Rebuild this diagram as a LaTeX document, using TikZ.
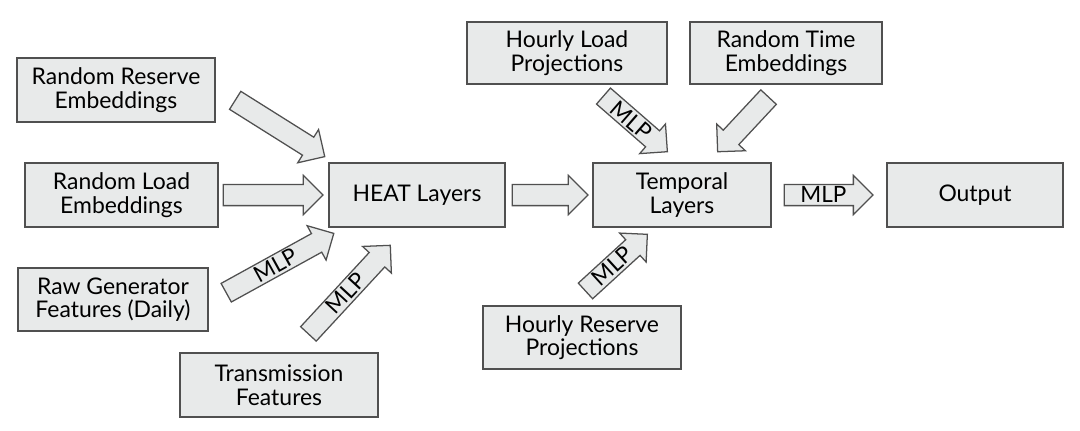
\documentclass[tikz,border=0pt]{standalone}
\usepackage{fontspec}
\setmainfont{Lato}
\usetikzlibrary{shapes.arrows, calc}

\definecolor{boxgray}{HTML}{E8EAEA}
\definecolor{edgegray}{HTML}{505050}

\tikzset{
  box/.style={draw=edgegray, fill=boxgray, line width=0.9pt, align=center,
    minimum height=1.6cm, font=\fontsize{16.3}{16.8}\selectfont},
  fatarr/.style={single arrow, draw=edgegray, fill=boxgray, line width=0.9pt,
    single arrow head extend=6.4pt, text height=11.3pt, text depth=0pt,
    inner ysep=1.45pt, inner xsep=0pt, font=\fontsize{16}{17}\selectfont},
}

% 粗箭头: 起点, 终点, 文字
\newcommand{\fatarrow}[3]{%
  \path let \p1=#1, \p2=#2, \n1={atan2(\y2-\y1,\x2-\x1)},
    \n2={veclen(\x2-\x1,\y2-\y1)} in
    node[fatarr, rotate=\n1, minimum height=\n2, anchor=tail] at (\p1) {#3};}

\begin{document}
\begin{tikzpicture}[x=0.025cm, y=-0.025cm]
    \useasboundingbox (0,0) rectangle (1080,430);

    % 左边的输入
    \node[box, minimum width=4.95cm] (rre) at (116,90) {Random Reserve\\Embeddings};
    \node[box, minimum width=4.825cm] (rle) at (121.5,195) {Random Load\\Embeddings};
    \node[box, minimum width=4.75cm, minimum height=1.575cm] (rgf) at (113,299.5) {Raw Generator\\Features (Daily)};
    \node[box, minimum width=4.95cm] (trans) at (279,385) {Transmission\\Features};

    % 中间的层
    \node[box, minimum width=4.4cm] (heat) at (417,195) {HEAT Layers};
    \node[box, minimum width=4.45cm] (temp) at (682,195) {Temporal\\Layers};
    \node[box, minimum width=4.4cm] (out) at (975,195) {Output};

    % 上下的输入
    \node[box, minimum width=5cm, minimum height=1.55cm] (hlp) at (567,53) {Hourly Load\\Projections};
    \node[box, minimum width=4.8cm, minimum height=1.55cm] (rte) at (786,53) {Random Time\\Embeddings};
    \node[box, minimum width=4.95cm, minimum height=1.575cm] (hrp) at (582,337.5) {Hourly Reserve\\Projections};

    % 箭头
    \fatarrow{($(rre.east)+(19,10)$)}{($(heat.north west)+(-4,-6)$)}{}
    \fatarrow{($(rle.east)+(4,0)$)}{($(heat.west)+(-6,0)$)}{}
    \fatarrow{($(rgf.east)+(17,-6.5)$)}{($(heat.south west)+(5,6)$)}{MLP}
    \fatarrow{($(trans.north)+(29,-18)$)}{($(heat.south)+(-27,18)$)}{MLP}
    \fatarrow{($(heat.east)+(6,0)$)}{($(temp.west)+(-5,0)$)}{}
    \fatarrow{($(hlp.south)+(36,11)$)}{($(temp.north)+(-15,-11)$)}{MLP}
    \fatarrow{($(rte.south)+(-17,12)$)}{($(temp.north)+(36,-11)$)}{}
    \fatarrow{($(hrp.north)+(3,-14)$)}{($(temp.south)+(-35,7)$)}{MLP}
    \fatarrow{($(temp.east)+(12,0)$)}{($(out.west)+(-14,0)$)}{MLP}
\end{tikzpicture}
\end{document}
